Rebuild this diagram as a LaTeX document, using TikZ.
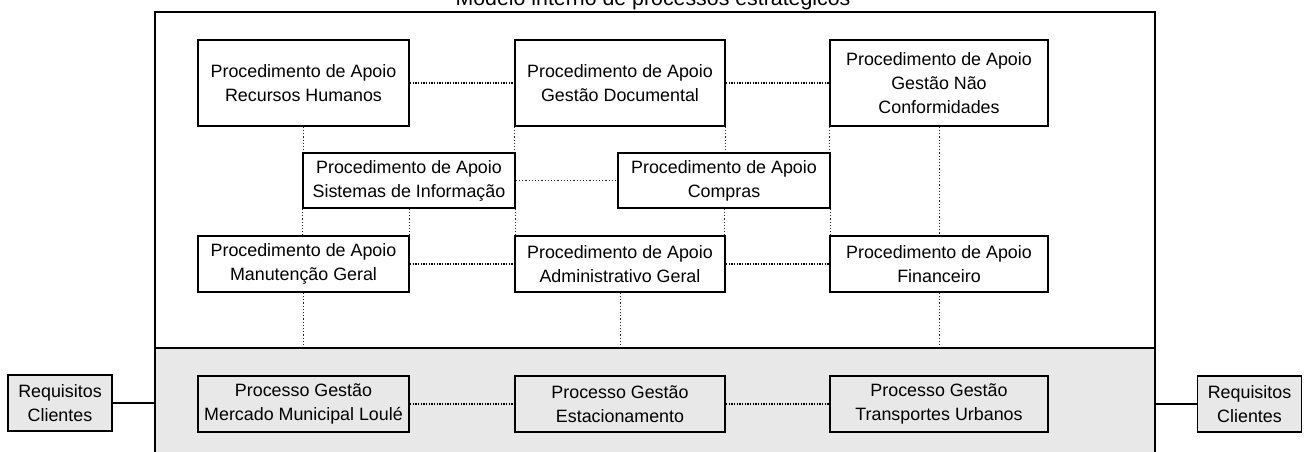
\documentclass[tikz,border=0pt]{standalone}
\usepackage{fontspec}
\setmainfont{Liberation Sans}

\begin{document}
\begin{tikzpicture}[x=0.75pt,y=-0.75pt]
	\tikzstyle{caixa}=[draw, line width=1.3pt, align=center, inner sep=0pt, font=\fontsize{13.4}{18}\selectfont]
	\tikzstyle{processo}=[caixa, fill=gray!18, minimum height=42pt]
	\tikzstyle{requisito}=[caixa, fill=gray!18, minimum width=78pt, minimum height=42pt]
	\tikzstyle{larga1}=[minimum width=158.25pt]
	\tikzstyle{larga2}=[minimum width=157.5pt]
	\tikzstyle{larga3}=[minimum width=163.5pt]
	\tikzstyle{alta}=[minimum height=64.5pt]
	\tikzstyle{baixa}=[minimum height=42pt]
	\tikzstyle{meia}=[minimum width=159pt, minimum height=41.25pt]
	\tikzstyle{banda}=[draw, line width=1.2pt, fill=gray!18, minimum width=750pt, minimum height=84pt, inner sep=0pt]
	\tikzstyle{pontos}=[line width=1pt, dash pattern=on 1pt off 1pt]
	\tikzstyle{vertical}=[line width=0.7pt, dash pattern=on 0.8pt off 1.6pt, black!85]
	\tikzstyle{ligacao}=[line width=1.2pt]
	\useasboundingbox (0,0) rectangle (1304,452);
	\node[banda] (BD) at (655,404) {};
	\draw[line width=1.2pt] (155,460) rectangle (1155,12);
	\node[anchor=base, font=\fontsize{16}{18}\selectfont] (T) at (653,6) {Modelo interno de processos estratégicos};
	\node[caixa, larga1, alta] (RH) at (303.5,83) {Procedimento de Apoio\\Recursos Humanos};
	\node[caixa, larga2, alta] (GD) at (620,83) {Procedimento de Apoio\\Gestão Documental};
	\node[caixa, larga3, alta] (GNC) at (939,83) {Procedimento de Apoio\\Gestão Não\\Conformidades};
	\node[caixa, meia] (SI) at (409,180.5) {Procedimento de Apoio\\Sistemas de Informação};
	\node[caixa, meia] (CO) at (724,180.5) {Procedimento de Apoio\\Compras};
	\node[caixa, larga1, baixa] (MG) at (303.5,264) {Procedimento de Apoio\\Manutenção Geral};
	\node[caixa, larga2, baixa] (AG) at (620,264) {Procedimento de Apoio\\Administrativo Geral};
	\node[caixa, larga3, baixa] (FI) at (939,264) {Procedimento de Apoio\\Financeiro};
	\node[processo, larga1] (ME) at (303.5,404) {Processo Gestão\\Mercado Municipal Loulé};
	\node[processo, larga2] (ES) at (620,404) {Processo Gestão\\Estacionamento};
	\node[processo, larga3] (TU) at (939,404) {Processo Gestão\\Transportes Urbanos};
	\node[requisito] (RC1) at (60,403) {Requisitos\\Clientes};
	\node[requisito] (RC2) at (1249.5,404) {Requisitos\\Clientes};
	% ligacoes horizontais
	\draw[pontos] (RH) -- (GD);
	\draw[pontos] (GD) -- (GNC);
	\draw[vertical] (SI) -- (CO);
	\draw[pontos] (MG) -- (AG);
	\draw[pontos] (AG) -- (FI);
	\draw[pontos] (ME) -- (ES);
	\draw[pontos] (ES) -- (TU);
	% ligacoes verticais
	\draw[vertical] (RH.south) -- (RH.south |- SI.north);
	\draw[vertical] (SI.south west) -- (SI.south west |- MG.north);
	\draw[vertical] (SI.south) -- (SI.south |- MG.north);
	\draw[vertical] (GD.south west) -- (GD.south west |- SI.north);
	\draw[vertical] (SI.south east) -- (SI.south east |- AG.north);
	\draw[vertical] (GD.south east) -- (GD.south east |- CO.north);
	\draw[vertical] (CO.south) -- (CO.south |- AG.north);
	\draw[vertical] (GNC.south west) -- (GNC.south west |- CO.north);
	\draw[vertical] (CO.south east) -- (CO.south east |- FI.north);
	\draw[vertical] (GNC.south) -- (FI.north);
	\draw[vertical] (MG.south) -- (MG.south |- BD.north);
	\draw[vertical] (AG.south) -- (AG.south |- BD.north);
	\draw[vertical] (FI.south) -- (FI.south |- BD.north);
	% requisitos
	\draw[ligacao] (RC1) -- (RC1 -| BD.west);
	\draw[ligacao] (RC2) -- (RC2 -| BD.east);
\end{tikzpicture}
\end{document}
